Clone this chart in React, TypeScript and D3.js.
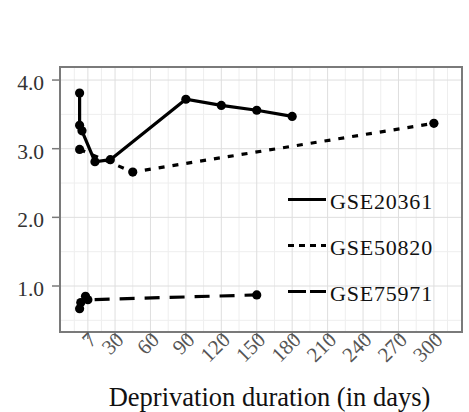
import React from "react";
import * as d3 from "d3";

// series (days, relative value)
const daysA = [0, 0, 2, 13, 26, 90, 120, 150, 180];
const valsA = [3.81, 3.34, 3.26, 2.81, 2.84, 3.72, 3.63, 3.56, 3.47];
const daysB = [0, 45, 300];
const valsB = [2.99, 2.66, 3.37];
const daysC = [0, 1, 5, 7, 150];
const valsC = [0.67, 0.76, 0.85, 0.8, 0.87];

const seriesNames = ["GSE20361", "GSE50820", "GSE75971"];
const xTicks = [7, 30, 60, 90, 120, 150, 180, 210, 240, 270, 300];
const yTicks = [1, 2, 3, 4];
const yLabels = ["1.0", "2.0", "3.0", "4.0"];

const W = 469;
const H = 412;
const FONT = "'Liberation Serif', 'Times New Roman', serif";

const App = () => {
  const left = 60;
  const right = 462;
  const top = 67;
  const bottom = 332;

  const x = d3.scaleLinear().domain([-16.6, 323.8]).range([left, right]);
  const y = d3.scaleLinear().domain([0.33, 4.19]).range([bottom, top]);

  // minor breaks like ggplot: midpoints between (extended) major breaks
  const ext = [xTicks[0] - (xTicks[1] - xTicks[0]), ...xTicks, 300 + 23];
  const xMinor = d3.pairs(ext).map(([a, b]) => (a + b) / 2);
  const yMinor = [0.5, 1.5, 2.5, 3.5];

  const line = d3
    .line<[number, number]>()
    .x((d) => x(d[0]))
    .y((d) => y(d[1]));

  const series = [
    { days: daysA, vals: valsA, dash: undefined, keyDash: undefined },
    { days: daysB, vals: valsB, dash: "6 8", keyDash: "6 5" },
    { days: daysC, vals: valsC, dash: "15 10", keyDash: "18 4" },
  ];

  const legendY = [199.5, 245.5, 291.5];

  return (
    <svg
      width={W}
      height={H}
      style={{ position: "fixed", left: 0, top: 0, background: "#fff" }}
      fontFamily={FONT}
    >
      <rect x={left} y={top} width={right - left} height={bottom - top} fill="#fff" />
      {xMinor.map((d, i) => (
        <line key={"xm" + i} x1={x(d)} x2={x(d)} y1={top} y2={bottom} stroke="#eeeeee" strokeWidth={1} />
      ))}
      {yMinor.map((d, i) => (
        <line key={"ym" + i} x1={left} x2={right} y1={y(d)} y2={y(d)} stroke="#eeeeee" strokeWidth={1} />
      ))}
      {xTicks.map((d, i) => (
        <line key={"xg" + i} x1={x(d)} x2={x(d)} y1={top} y2={bottom} stroke="#dedede" strokeWidth={1} />
      ))}
      {yTicks.map((d, i) => (
        <line key={"yg" + i} x1={left} x2={right} y1={y(d)} y2={y(d)} stroke="#dedede" strokeWidth={1} />
      ))}

      {series.map((s, i) => {
        const pts = s.days.map((d, j) => [d, s.vals[j]] as [number, number]);
        return (
          <g key={"s" + i}>
            <path d={line(pts) || ""} fill="none" stroke="#000" strokeWidth={3.2} strokeDasharray={s.dash} />
            {pts.map((p, j) => (
              <circle key={j} cx={x(p[0])} cy={y(p[1])} r={4.6} fill="#000" />
            ))}
          </g>
        );
      })}

      {/* legend */}
      {seriesNames.map((n, i) => (
        <g key={"lg" + i}>
          <line x1={288} x2={326} y1={legendY[i]} y2={legendY[i]} stroke="#000" strokeWidth={3.2} strokeDasharray={series[i].keyDash} />
          <text x={330} y={legendY[i] + 9.5} fontSize={22} letterSpacing={0.8} fill="#111">
            {n}
          </text>
        </g>
      ))}

      <rect x={left} y={top} width={right - left} height={bottom - top} fill="none" stroke="#7a7a7a" strokeWidth={2} />

      {/* y axis */}
      {yTicks.map((d, i) => (
        <g key={"yt" + i}>
          <line x1={left - 8} x2={left} y1={y(d)} y2={y(d)} stroke="#7a7a7a" strokeWidth={1.5} />
          <text x={44} y={y(d) + 10} textAnchor="end" fontSize={21.5} fill="#333">
            {yLabels[i]}
          </text>
        </g>
      ))}

      {/* x axis */}
      {xTicks.map((d, i) => (
        <g key={"xt" + i}>
          <line x1={x(d)} x2={x(d)} y1={bottom} y2={bottom + 7} stroke="#7a7a7a" strokeWidth={1.5} />
          <text
            transform={`translate(${x(d) + 10},${341}) rotate(-45)`}
            textAnchor="end"
            fontSize={21}
            fill="#555"
          >
            {d}
          </text>
        </g>
      ))}

      <text x={(107 + 432) / 2} y={406} textAnchor="middle" fontSize={26.5} fill="#111">
        Deprivation duration (in days)
      </text>
    </svg>
  );
};

export default App;
